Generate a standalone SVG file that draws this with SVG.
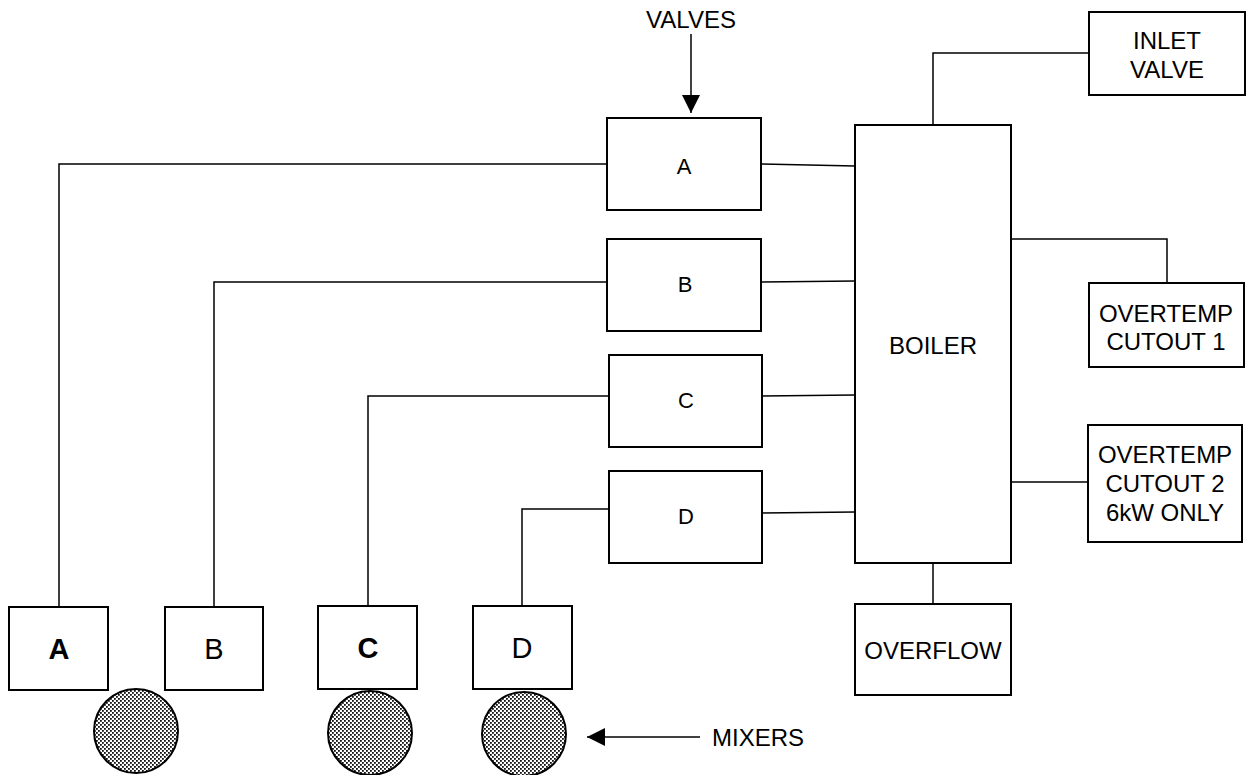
<svg xmlns="http://www.w3.org/2000/svg" width="1246" height="775" viewBox="0 0 1246 775">
<defs>
<pattern id="hatch" width="4" height="4" patternUnits="userSpaceOnUse">
<rect width="4" height="4" fill="#fff"/>
<rect x="0" y="0" width="1.8" height="1.8" fill="#111"/>
<rect x="2" y="2" width="1.8" height="1.8" fill="#111"/>
</pattern>
<marker id="arr" viewBox="0 0 10 10" refX="10" refY="5" markerWidth="26" markerHeight="18" markerUnits="userSpaceOnUse" orient="auto">
<path d="M0,0 L10,5 L0,10 Z" fill="#000"/>
</marker>
<style>
.box{fill:#fff;stroke:#000;stroke-width:2}
.ln{fill:none;stroke:#000;stroke-width:1.5}
.t{font-family:"Liberation Sans",Arial,sans-serif;font-size:24px;fill:#000;text-anchor:middle}
.s{font-size:22px}
.b{font-size:29px}
.bold{font-weight:bold}
.mix{fill:url(#hatch);stroke:#000;stroke-width:2}
</style>
</defs>
<rect width="1246" height="775" fill="#fff"/>
<g id="connectors">
<path class="ln" d="M691,34 V113" marker-end="url(#arr)"/>
<path class="ln" d="M700,737 H587" marker-end="url(#arr)"/>
<path class="ln" d="M607,164 H59 V607"/>
<path class="ln" d="M607,282 H214 V607"/>
<path class="ln" d="M609,396 H368 V606"/>
<path class="ln" d="M609,509 H522 V606"/>
<path class="ln" d="M761,164 L855,166"/>
<path class="ln" d="M761,282 L855,281"/>
<path class="ln" d="M762,396 L855,395"/>
<path class="ln" d="M762,513 L855,512"/>
<path class="ln" d="M933,125 V53 H1089"/>
<path class="ln" d="M1011,239 H1167 V283"/>
<path class="ln" d="M1011,482 H1088"/>
<path class="ln" d="M933,563 V604"/>
</g>
<g id="label-valves"><text class="t" x="691" y="28">VALVES</text></g>
<g id="label-mixers"><text class="t" x="712" y="746" style="text-anchor:start">MIXERS</text></g>
<g id="valve-a"><rect class="box" x="607" y="118" width="154" height="92"/><text class="t s" x="684" y="174">A</text></g>
<g id="valve-b"><rect class="box" x="607" y="239" width="154" height="92"/><text class="t s" x="685" y="292">B</text></g>
<g id="valve-c"><rect class="box" x="609" y="355" width="153" height="92"/><text class="t s" x="686" y="408">C</text></g>
<g id="valve-d"><rect class="box" x="609" y="471" width="153" height="92"/><text class="t s" x="686" y="524">D</text></g>
<g id="boiler"><rect class="box" x="855" y="125" width="156" height="438"/><text class="t" x="933" y="354">BOILER</text></g>
<g id="inlet-valve"><rect class="box" x="1089" y="12" width="156" height="83"/><text class="t" x="1167" y="49">INLET</text><text class="t" x="1167" y="78">VALVE</text></g>
<g id="cutout-1"><rect class="box" x="1089" y="283" width="155" height="84"/><text class="t" x="1166" y="322">OVERTEMP</text><text class="t" x="1166" y="350">CUTOUT 1</text></g>
<g id="cutout-2"><rect class="box" x="1088" y="425" width="154" height="117"/><text class="t" x="1165" y="463">OVERTEMP</text><text class="t" x="1165" y="492">CUTOUT 2</text><text class="t" x="1165" y="521">6kW ONLY</text></g>
<g id="overflow"><rect class="box" x="855" y="604" width="156" height="91"/><text class="t" x="933" y="659">OVERFLOW</text></g>
<g id="mixer-box-a"><rect class="box" x="9" y="607" width="99" height="83"/><text class="t b bold" x="59" y="659">A</text></g>
<g id="mixer-box-b"><rect class="box" x="165" y="607" width="98" height="83"/><text class="t b" x="214" y="659">B</text></g>
<g id="mixer-box-c"><rect class="box" x="318" y="606" width="99" height="83"/><text class="t b bold" x="368" y="658">C</text></g>
<g id="mixer-box-d"><rect class="box" x="473" y="606" width="99" height="83"/><text class="t b" x="522" y="658">D</text></g>
<g id="mixer-1"><circle class="mix" cx="136" cy="731" r="42"/></g>
<g id="mixer-2"><circle class="mix" cx="370" cy="733" r="42"/></g>
<g id="mixer-3"><circle class="mix" cx="524" cy="734" r="42"/></g>
</svg>
